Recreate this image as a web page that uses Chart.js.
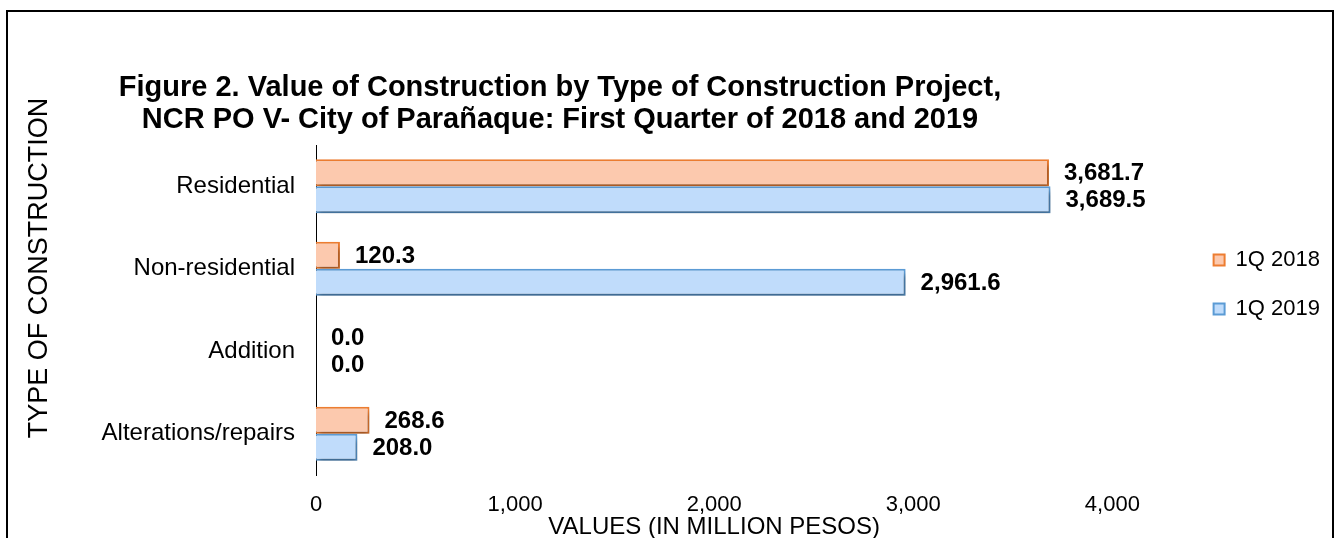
<!DOCTYPE html>
<html>
<head>
<meta charset="utf-8">
<script src="https://cdn.jsdelivr.net/npm/chart.js@4"></script>
<style>
    body { margin: 0; background: #fff; }
    #frame { position: absolute; left: 6px; top: 10px; width: 1328px; height: 560px; border: 2px solid #000; box-sizing: border-box; }
    #wrap { position: absolute; left: 0; top: 0; width: 1342px; height: 538px; }
</style>
</head>
<body>
<div id="frame"></div>
<div id="wrap"><canvas id="constructionChart" width="1342" height="538"></canvas></div>
<script>
const categories = ['Residential', 'Non-residential', 'Addition', 'Alterations/repairs'];
const values2018 = [3681.7, 120.3, 0.0, 268.6];
const values2019 = [3689.5, 2961.6, 0.0, 208.0];
const seriesNames = ['1Q 2018', '1Q 2019'];
const xTickValues = [0, 1000, 2000, 3000, 4000];
const titleLines = [
    'Figure 2. Value of Construction by Type of Construction Project,',
    'NCR PO V- City of Parañaque: First Quarter of 2018 and 2019'
];
const yTitle = 'TYPE OF CONSTRUCTION';
const xTitle = 'VALUES (IN MILLION PESOS)';

Chart.defaults.font.family = '"Liberation Sans", Arial, sans-serif';
Chart.defaults.color = '#000';

// title lines + axis titles, placed where the original has them
const fixedTextPlugin = {
    id: 'fixedText',
    afterDraw(chart) {
        const ctx = chart.ctx;
        const x = chart.scales.x;
        ctx.save();
        ctx.fillStyle = '#000';
        ctx.textAlign = 'center';
        ctx.textBaseline = 'middle';
        ctx.font = 'bold 29px "Liberation Sans", Arial, sans-serif';
        ctx.fillText(titleLines[0], 560, 88);
        ctx.fillText(titleLines[1], 560, 120);

        // x title sits centred under the 0..4000 span
        ctx.font = '24px "Liberation Sans", Arial, sans-serif';
        const mid = (x.getPixelForValue(xTickValues[0]) + x.getPixelForValue(xTickValues[xTickValues.length - 1])) / 2;
        ctx.fillText(xTitle, mid, 527);

        ctx.translate(40, 268);
        ctx.rotate(-Math.PI / 2);
        ctx.font = '27px "Liberation Sans", Arial, sans-serif';
        ctx.fillText(yTitle, 0, 0);
        ctx.restore();
    }
};

// value labels to the right of each bar
const valueLabelPlugin = {
    id: 'valueLabels',
    afterDatasetsDraw(chart) {
        const ctx = chart.ctx;
        ctx.save();
        ctx.fillStyle = '#000';
        ctx.textAlign = 'left';
        ctx.textBaseline = 'middle';
        ctx.font = 'bold 24px "Liberation Sans", Arial, sans-serif';
        chart.data.datasets.forEach((ds, i) => {
            const meta = chart.getDatasetMeta(i);
            meta.data.forEach((bar, j) => {
                const txt = ds.data[j].toLocaleString('en-US', { minimumFractionDigits: 1, maximumFractionDigits: 1 });
                ctx.fillText(txt, bar.x + 15, bar.y + 1);
            });
        });
        ctx.restore();
    }
};

const barShadowPlugin = {
    id: 'barShadow',
    beforeDatasetsDraw(chart) {
        const ctx = chart.ctx;
        ctx.save();
        ctx.shadowColor = 'rgba(0, 0, 0, 0.35)';
        ctx.shadowBlur = 5;
        ctx.shadowOffsetX = 2;
        ctx.shadowOffsetY = 4;
    },
    afterDatasetsDraw(chart) {
        chart.ctx.restore();
    }
};

const ctx = document.getElementById('constructionChart').getContext('2d');

new Chart(ctx, {
    type: 'bar',
    data: {
        labels: categories,
        datasets: [
            {
                label: seriesNames[0],
                data: values2018,
                backgroundColor: '#fcc9ae',
                borderColor: '#ed7d31',
                borderWidth: 2,
                categoryPercentage: 0.655,
                barPercentage: 1.0
            },
            {
                label: seriesNames[1],
                data: values2019,
                backgroundColor: '#c0dcfb',
                borderColor: '#5b9bd5',
                borderWidth: 2,
                categoryPercentage: 0.655,
                barPercentage: 1.0
            }
        ]
    },
    options: {
        indexAxis: 'y',
        responsive: false,
        animation: false,
        layout: {
            padding: { top: 145, left: 20, right: 12, bottom: 0 }
        },
        scales: {
            x: {
                min: 0,
                // axis runs past 4,000 so the legend keeps its gap on the right
                max: 4373,
                afterBuildTicks(scale) {
                    scale.ticks = xTickValues.map(v => ({ value: v }));
                },
                afterFit(scale) {
                    scale.height = 63;
                },
                grid: { display: false, drawTicks: false },
                border: { display: false },
                ticks: {
                    padding: 17,
                    font: { size: 22 },
                    maxRotation: 0,
                    callback: v => v.toLocaleString('en-US')
                },
                title: { display: false }
            },
            y: {
                afterFit(scale) {
                    scale.width = 296;
                },
                grid: { display: false, drawTicks: false },
                border: { display: true, color: '#000', width: 1 },
                ticks: {
                    padding: 21,
                    font: { size: 24 }
                }
            }
        },
        plugins: {
            title: { display: false },
            tooltip: { enabled: false },
            legend: {
                position: 'right',
                align: 'start',
                title: {
                    display: true,
                    text: '',
                    font: { size: 10 },
                    padding: { top: 0, bottom: 65 }
                },
                labels: {
                    boxWidth: 11,
                    boxHeight: 11,
                    padding: 27,
                    font: { size: 22 }
                }
            }
        }
    },
    plugins: [barShadowPlugin, valueLabelPlugin, fixedTextPlugin]
});
</script>
</body>
</html>
